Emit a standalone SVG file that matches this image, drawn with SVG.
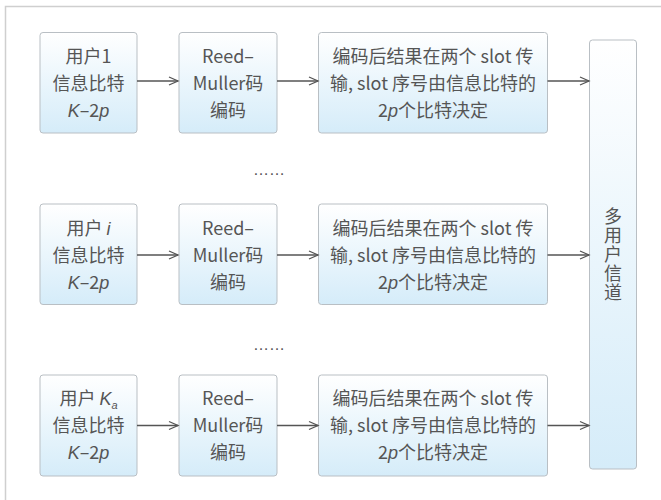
<svg xmlns="http://www.w3.org/2000/svg" width="661" height="500" viewBox="0 0 661 500">
<defs>
<linearGradient id="g" x1="0" y1="0" x2="0" y2="1">
<stop offset="0" stop-color="#ffffff"/>
<stop offset="1" stop-color="#d5ecf9"/>
</linearGradient>
<marker id="ah" markerWidth="12" markerHeight="12" viewBox="0 0 12 12" refX="10" refY="6" orient="auto" markerUnits="userSpaceOnUse">
<path d="M1,2 L10,6 L1,10" fill="none" stroke="#555" stroke-width="1.3"/>
</marker>
</defs>
<style>
.box{fill:url(#g);stroke:#b9bfc4;stroke-width:1}
.t{font-family:"Noto Sans CJK SC","Liberation Sans",sans-serif;font-size:18px;fill:#555;text-anchor:middle}
.i{font-style:italic;font-family:"Liberation Sans","Noto Sans CJK SC",sans-serif}
.v{writing-mode:vertical-rl;letter-spacing:1px}
.c{stroke:#555;stroke-width:1.3;fill:none;marker-end:url(#ah)}
.dots{font-family:"Liberation Sans",sans-serif;font-size:16px;fill:#555;text-anchor:middle}
</style>
<rect width="661" height="500" fill="#fff"/>
<path d="M5.5,500 L5.5,6.5 L661,6.5" fill="none" stroke="#cfcfcf" stroke-width="1.5"/>

<g id="user1">
<rect class="box" x="40" y="32.5" width="97" height="100.5" rx="3"/>
<text class="t" x="88.5" y="63">用户1</text>
<text class="t" x="88.5" y="90">信息比特</text>
<text class="t" x="88.5" y="117"><tspan class="i">K</tspan>–2<tspan class="i">p</tspan></text>
</g>
<g id="rm1">
<rect class="box" x="179" y="32.5" width="98" height="100.5" rx="3"/>
<text class="t" x="228" y="63">Reed–</text>
<text class="t" x="228" y="90">Muller码</text>
<text class="t" x="228" y="117">编码</text>
</g>
<g id="slot1">
<rect class="box" x="318.5" y="32.5" width="229" height="100.5" rx="3"/>
<text class="t" x="433" y="63">编码后结果在两个 slot 传</text>
<text class="t" x="433" y="90">输, slot 序号由信息比特的</text>
<text class="t" x="433" y="117">2<tspan class="i">p</tspan>个比特决定</text>
</g>

<g id="useri">
<rect class="box" x="40" y="204" width="97" height="100.5" rx="3"/>
<text class="t" x="88.5" y="234.5">用户 <tspan class="i">i</tspan></text>
<text class="t" x="88.5" y="261.5">信息比特</text>
<text class="t" x="88.5" y="288.5"><tspan class="i">K</tspan>–2<tspan class="i">p</tspan></text>
</g>
<g id="rmi">
<rect class="box" x="179" y="204" width="98" height="100.5" rx="3"/>
<text class="t" x="228" y="234.5">Reed–</text>
<text class="t" x="228" y="261.5">Muller码</text>
<text class="t" x="228" y="288.5">编码</text>
</g>
<g id="sloti">
<rect class="box" x="318.5" y="204" width="229" height="100.5" rx="3"/>
<text class="t" x="433" y="234.5">编码后结果在两个 slot 传</text>
<text class="t" x="433" y="261.5">输, slot 序号由信息比特的</text>
<text class="t" x="433" y="288.5">2<tspan class="i">p</tspan>个比特决定</text>
</g>

<g id="userKa">
<rect class="box" x="40" y="375" width="97" height="101" rx="3"/>
<text class="t" x="88.5" y="405">用户 <tspan class="i">K</tspan><tspan class="i" font-size="11" dy="4">a</tspan></text>
<text class="t" x="88.5" y="432">信息比特</text>
<text class="t" x="88.5" y="459"><tspan class="i">K</tspan>–2<tspan class="i">p</tspan></text>
</g>
<g id="rmKa">
<rect class="box" x="179" y="375" width="98" height="101" rx="3"/>
<text class="t" x="228" y="405">Reed–</text>
<text class="t" x="228" y="432">Muller码</text>
<text class="t" x="228" y="459">编码</text>
</g>
<g id="slotKa">
<rect class="box" x="318.5" y="375" width="229" height="101" rx="3"/>
<text class="t" x="433" y="405">编码后结果在两个 slot 传</text>
<text class="t" x="433" y="432">输, slot 序号由信息比特的</text>
<text class="t" x="433" y="459">2<tspan class="i">p</tspan>个比特决定</text>
</g>

<g id="channel">
<rect class="box" x="589.5" y="40" width="47" height="429" rx="3"/>
<text class="t v" x="613" y="255">多用户信道</text>
</g>

<g id="ellipses">
<text class="dots" x="269" y="175">……</text>
<text class="dots" x="269" y="350">……</text>
</g>

<g id="connectors">
<line class="c" x1="137" y1="81" x2="178" y2="81"/>
<line class="c" x1="277" y1="81" x2="318" y2="81"/>
<line class="c" x1="547.5" y1="81" x2="589" y2="81"/>
<line class="c" x1="137" y1="255" x2="178" y2="255"/>
<line class="c" x1="277" y1="255" x2="318" y2="255"/>
<line class="c" x1="547.5" y1="255" x2="589" y2="255"/>
<line class="c" x1="137" y1="425.5" x2="178" y2="425.5"/>
<line class="c" x1="277" y1="425.5" x2="318" y2="425.5"/>
<line class="c" x1="547.5" y1="425.5" x2="589" y2="425.5"/>
</g>
</svg>
